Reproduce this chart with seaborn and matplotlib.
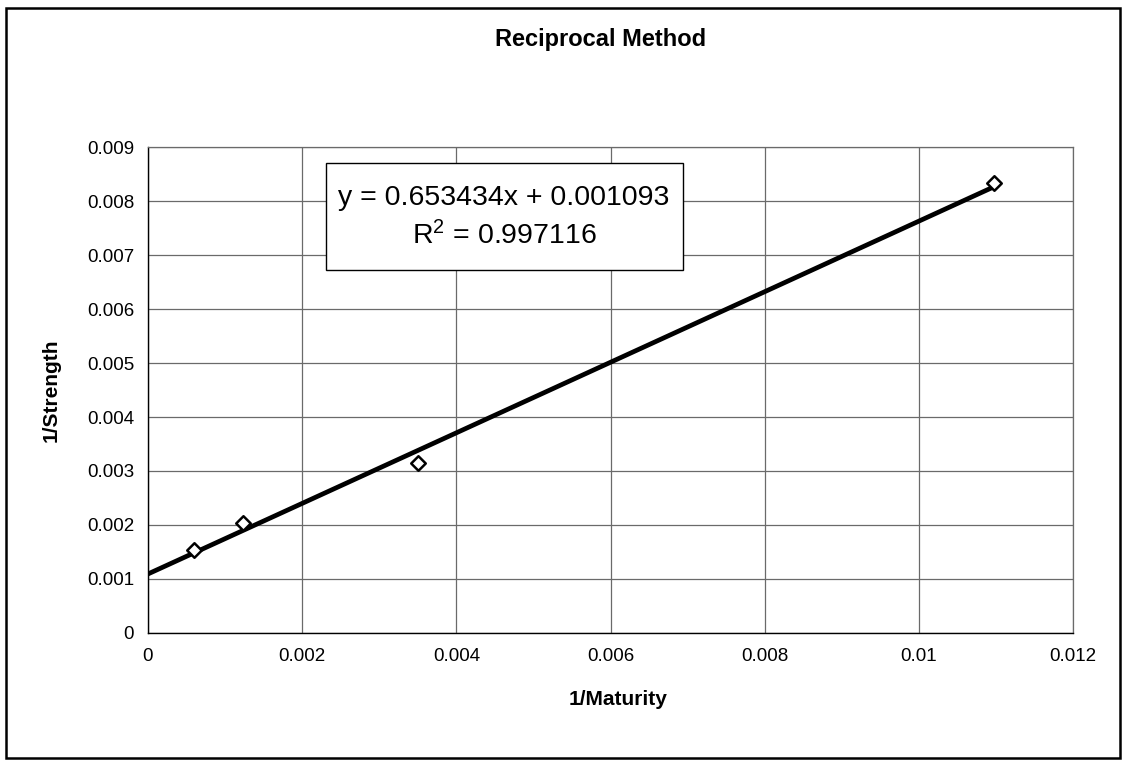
import matplotlib.pyplot as plt
import matplotlib.patches as mpatches
import seaborn as sns
import pandas as pd

# data
inv_maturity = [0.000595, 0.00123, 0.00350, 0.01098]
inv_strength = [0.00154, 0.00204, 0.00315, 0.00834]
trend_x = [0.0, 0.011]
trend_y = [0.001093, 0.008281]
x_ticks = [0, 0.002, 0.004, 0.006, 0.008, 0.01, 0.012]
x_tick_labels = ["0", "0.002", "0.004", "0.006", "0.008", "0.01", "0.012"]
y_ticks = [0, 0.001, 0.002, 0.003, 0.004, 0.005, 0.006, 0.007, 0.008, 0.009]
y_tick_labels = ["0", "0.001", "0.002", "0.003", "0.004", "0.005", "0.006", "0.007", "0.008", "0.009"]

points = pd.DataFrame({"x": inv_maturity, "y": inv_strength})
trend = pd.DataFrame({"x": trend_x, "y": trend_y})

sns.set_theme(style="white")
plt.rcParams["font.family"] = ["Liberation Sans", "DejaVu Sans"]
plt.rcParams["text.color"] = "black"

fig = plt.figure(figsize=(11.26, 7.63), dpi=100)
fig.set_facecolor("white")
ax = fig.add_axes([0.1314, 0.1704, 0.8216, 0.6369])

## Plot
sns.lineplot(data=trend, x="x", y="y", ax=ax, color="black", linewidth=3.4, zorder=3)
sns.scatterplot(data=points, x="x", y="y", ax=ax, marker="D", s=55,
                facecolor="white", edgecolor="black", linewidth=1.8, zorder=4)

## Axes
ax.set_xlim(0, 0.012)
ax.set_ylim(0, 0.009)
ax.set_xticks(x_ticks)
ax.set_xticklabels(x_tick_labels)
ax.set_yticks(y_ticks)
ax.set_yticklabels(y_tick_labels)
ax.tick_params(axis="both", labelsize=13.5, colors="black", length=5, width=1, direction="out")
ax.tick_params(axis="x", pad=6)
ax.tick_params(axis="y", pad=5)
ax.grid(True, color="#6a6a6a", linewidth=0.9)
for side in ["top", "right"]:
    ax.spines[side].set_color("#6a6a6a")
    ax.spines[side].set_linewidth(0.9)
for side in ["left", "bottom"]:
    ax.spines[side].set_color("black")
    ax.spines[side].set_linewidth(1.0)

ax.set_xlabel("")
ax.set_ylabel("")
fig.text(0.549, 0.083, "1/Maturity", ha="center", va="center", fontsize=15, fontweight="bold", color="black")
fig.text(0.045, 0.489, "1/Strength", ha="center", va="center", rotation=90, fontsize=15, fontweight="bold", color="black")
fig.text(0.533, 0.948, "Reciprocal Method", ha="center", va="center", fontsize=17, fontweight="bold", color="black")

## Equation box
box = mpatches.Rectangle((0.1924, 0.747), 0.3856, 0.22, transform=ax.transAxes,
                         facecolor="white", edgecolor="black", linewidth=1.0, zorder=5)
ax.add_patch(box)
ax.text(0.385, 0.854, "y = 0.653434x + 0.001093\n$\\mathregular{R^2}$ = 0.997116",
        transform=ax.transAxes, ha="center", va="center", fontsize=20.5, linespacing=1.45,
        color="black", zorder=6)

## Outer frame
frame = mpatches.Rectangle((0.005, 0.006), 0.99, 0.983, transform=fig.transFigure,
                           fill=False, edgecolor="black", linewidth=1.8)
fig.patches.append(frame)

fig.savefig("out.png", dpi=100)
